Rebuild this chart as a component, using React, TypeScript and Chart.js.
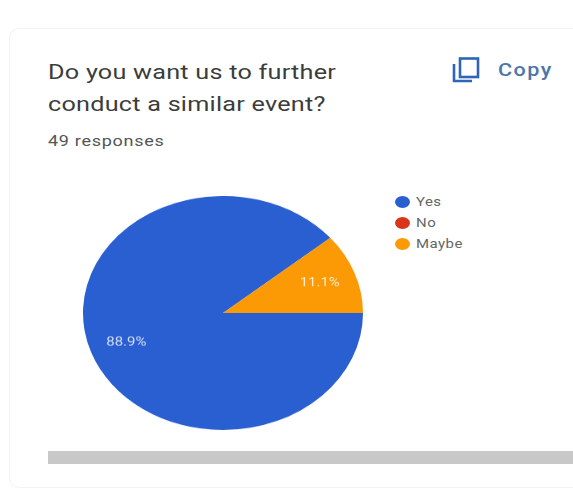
import React, { useEffect, useRef } from "react";
import { Chart, registerables } from "chart.js";

Chart.register(...registerables);

const categories = ["Yes", "No", "Maybe"];
const shares = [88.9, 0, 11.1];
const sliceLabels = ["88.9%", "", "11.1%"];
const colors = ["#2a5fd2", "#d8351a", "#fb9a05"];
const titleLines = ["Do you want us to further", "conduct a similar event?"];
const subtitle = "49 responses";
const copyLabel = "Copy";

const squash = 234 / 280;
const font = "Roboto, 'Liberation Sans', sans-serif";

const sliceLabelPlugin = {
  id: "sliceLabels",
  afterDatasetsDraw(chart: any) {
    const ctx = chart.ctx;
    chart.getDatasetMeta(0).data.forEach((arc: any, i: number) => {
      if (!sliceLabels[i]) return;
      const { startAngle, endAngle, outerRadius, x, y } = arc.getProps(
        ["startAngle", "endAngle", "outerRadius", "x", "y"],
        true
      );
      const mid = (startAngle + endAngle) / 2;
      const r = outerRadius * 0.735;
      ctx.save();
      ctx.translate(x + Math.cos(mid) * r, y + Math.sin(mid) * r);
      ctx.scale(1.3, 1 / squash);
      ctx.fillStyle = "rgba(255,255,255,0.8)";
      ctx.font = `11.5px ${font}`;
      ctx.textAlign = "center";
      ctx.textBaseline = "middle";
      ctx.fillText(sliceLabels[i], 0, 0);
      ctx.restore();
    });
  },
};

const abs = (left: number, top: number, stretch: number, extra: React.CSSProperties = {}): React.CSSProperties => ({
  position: "absolute",
  left,
  top,
  whiteSpace: "nowrap",
  fontFamily: font,
  transform: `scaleX(${stretch})`,
  transformOrigin: "left center",
  ...extra,
});

export default function App() {
  const ref = useRef<HTMLCanvasElement>(null);

  useEffect(() => {
    const chart = new Chart(ref.current!, {
      type: "pie",
      data: {
        labels: categories,
        datasets: [{ data: shares, backgroundColor: colors, borderWidth: 0 }],
      },
      options: {
        animation: false,
        responsive: false,
        rotation: 90,
        layout: { padding: 0 },
        plugins: { legend: { display: false }, tooltip: { enabled: false } },
      },
      plugins: [sliceLabelPlugin],
    });
    return () => chart.destroy();
  }, []);

  return (
    <div
      style={{
        position: "absolute",
        left: 0,
        top: 0,
        width: 573,
        height: 494,
        overflow: "hidden",
        background: "#fff",
        filter: "blur(0.7px)",
      }}
    >
      <div
        style={{
          position: "absolute",
          left: 9,
          top: 28,
          width: 600,
          height: 460,
          boxSizing: "border-box",
          border: "1px solid #f2f2f2",
          borderRadius: 10,
        }}
      />
      {titleLines.map((line, i) => (
        <div
          key={line}
          style={abs(48, 59 + i * 32, 1.2, {
            fontSize: 21,
            lineHeight: "26px",
            letterSpacing: "0.2px",
            color: "#3c3c3c",
          })}
        >
          {line}
        </div>
      ))}
      <div style={abs(48, 131, 1.2, { fontSize: 15, lineHeight: "20px", letterSpacing: "0.6px", color: "#555" })}>
        {subtitle}
      </div>
      <svg style={{ position: "absolute", left: 450, top: 56 }} width={32} height={30} fill="none" stroke="#2f65b8" strokeWidth={2.6}>
        <rect x={10} y={2.5} width={18} height={18.5} />
        <path d="M4 8 V25 H22" />
      </svg>
      <div style={abs(498, 58, 1.2, { fontSize: 18, lineHeight: "24px", letterSpacing: "1.2px", color: "#4a76a8", fontWeight: 500 })}>
        {copyLabel}
      </div>
      <canvas
        ref={ref}
        width={280}
        height={280}
        style={{
          position: "absolute",
          left: 83,
          top: 196,
          width: 280,
          height: 234,
        }}
      />
      {categories.map((c, i) => (
        <div key={c} style={{ position: "absolute", left: 395, top: 194 + i * 21, height: 16 }}>
          <div
            style={{
              position: "absolute",
              left: 0,
              top: 2,
              width: 15,
              height: 12,
              borderRadius: "50%",
              background: colors[i],
            }}
          />
          <div style={abs(21, 0, 1.15, { fontSize: 13, lineHeight: "16px", letterSpacing: "0.4px", color: "#666" })}>{c}</div>
        </div>
      ))}
      <div style={{ position: "absolute", left: 48, top: 451, width: 525, height: 13, background: "#c8c8c8" }} />
    </div>
  );
}
